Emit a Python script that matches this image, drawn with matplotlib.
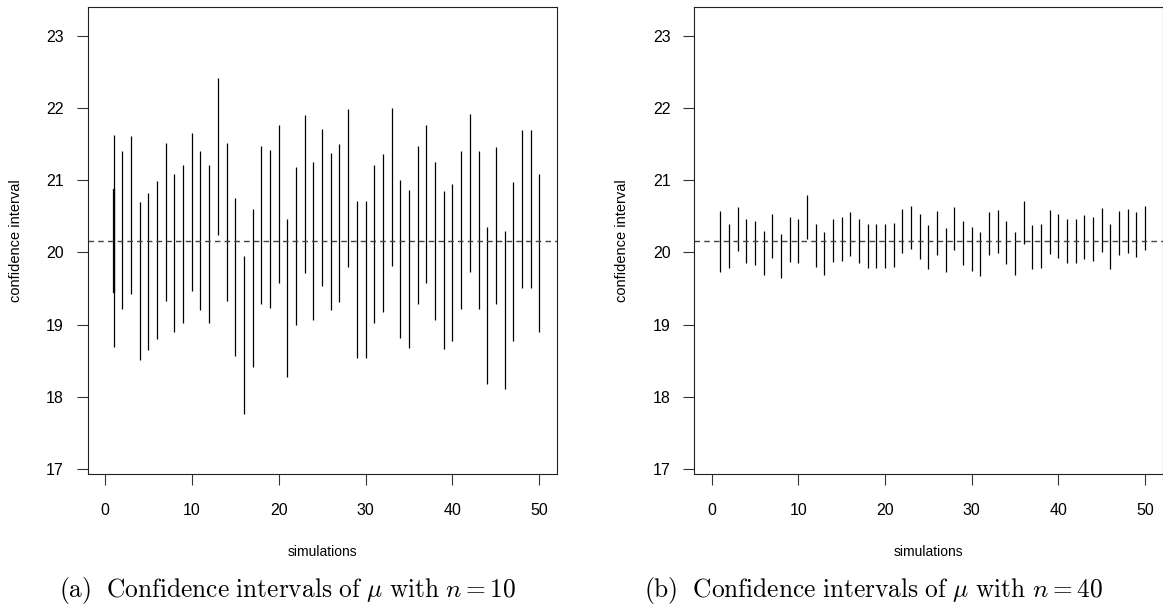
import matplotlib
matplotlib.use('Agg')
import matplotlib.pyplot as plt
import numpy as np

plt.rcParams['font.family'] = ['Liberation Sans', 'DejaVu Sans']
plt.rcParams['mathtext.fontset'] = 'cm'

# simulation index
sims = np.arange(1, 51)
mu = 20.16

# n = 10 intervals
lower_10 = [18.69, 19.22, 19.42, 18.51, 18.65, 18.80, 19.33, 18.90, 19.02, 19.47,
            19.21, 19.02, 20.24, 19.33, 18.56, 17.76, 18.41, 19.29, 19.23, 19.58,
            18.28, 18.99, 19.71, 19.07, 19.53, 19.20, 19.31, 19.80, 18.54, 18.54,
            19.03, 19.17, 19.81, 18.81, 18.68, 19.28, 19.58, 19.07, 18.66, 18.77,
            19.22, 19.73, 19.22, 18.18, 19.28, 18.11, 18.78, 19.51, 19.51, 18.90]
upper_10 = [21.63, 21.41, 21.61, 20.70, 20.83, 20.99, 21.51, 21.09, 21.21, 21.66,
            21.40, 21.21, 22.42, 21.51, 20.75, 19.95, 20.60, 21.48, 21.42, 21.76,
            20.46, 21.18, 21.90, 21.25, 21.71, 21.38, 21.50, 21.99, 20.72, 20.72,
            21.21, 21.36, 22.00, 21.00, 20.86, 21.47, 21.76, 21.25, 20.85, 20.95,
            21.40, 21.92, 21.41, 20.36, 21.46, 20.30, 20.97, 21.69, 21.69, 21.09]
# overlapping darker segment drawn at the first simulation
extra_x = [1]
extra_lower = [19.44]
extra_upper = [20.875]

# n = 40 intervals
lower_40 = [19.73, 19.78, 20.02, 19.85, 19.83, 19.69, 19.92, 19.65, 19.87, 19.86,
            20.19, 19.80, 19.69, 19.87, 19.88, 19.95, 19.86, 19.78, 19.78, 19.79,
            19.80, 19.99, 20.05, 19.91, 19.77, 19.97, 19.73, 20.03, 19.82, 19.74,
            19.68, 19.96, 19.99, 19.84, 19.69, 20.12, 19.77, 19.79, 19.98, 19.93,
            19.85, 19.86, 19.91, 19.88, 20.01, 19.77, 19.96, 19.99, 19.94, 20.03]
upper_40 = [20.57, 20.39, 20.63, 20.46, 20.44, 20.30, 20.53, 20.26, 20.49, 20.47,
            20.80, 20.40, 20.29, 20.47, 20.49, 20.56, 20.47, 20.39, 20.39, 20.40,
            20.41, 20.60, 20.65, 20.53, 20.38, 20.58, 20.34, 20.63, 20.43, 20.35,
            20.28, 20.56, 20.59, 20.44, 20.29, 20.72, 20.38, 20.40, 20.59, 20.54,
            20.46, 20.47, 20.52, 20.49, 20.62, 20.39, 20.57, 20.60, 20.56, 20.64]

yticks = [17, 18, 19, 20, 21, 22, 23]
xticks = [0, 10, 20, 30, 40, 50]
captions = [r'$\mathrm{(a)\ \ Confidence\ intervals\ of\ }\mu\mathrm{\ with\ }n=10$',
            r'$\mathrm{(b)\ \ Confidence\ intervals\ of\ }\mu\mathrm{\ with\ }n=40$']

W, H = 1163, 608
fig = plt.figure(figsize=(W / 100, H / 100), dpi=100)

# axes boxes in pixels: left, right, top, bottom
boxes = [(87.5, 556.7, 7, 473.8), (694.4, 1162.5, 7, 473.8)]
panels = [(lower_10, upper_10), (lower_40, upper_40)]
cap_x = [288, 873]
ylab_x = [-0.1375, -0.14]

for i, ((l, r, t, b), (lo, hi)) in enumerate(zip(boxes, panels)):
    ax = fig.add_axes([l / W, 1 - b / H, (r - l) / W, (b - t) / H])
    ax.vlines(sims, lo, hi, color='black', linewidth=0.9)
    if i == 0:
        ax.vlines(extra_x, extra_lower, extra_upper, color='black', linewidth=1.6)
    ax.axhline(mu, color='#444444', linestyle=(0, (4, 3)), linewidth=1.0)

    ax.set_xlim(-2, 52)
    ax.set_ylim(16.935, 23.40)
    ax.set_xticks(xticks)
    ax.set_yticks(yticks)
    ax.tick_params(direction='out', length=8, width=0.8, labelsize=11.5, color='#333333')
    ax.tick_params(axis='x', pad=13)
    ax.tick_params(axis='y', pad=9)
    for s in ax.spines.values():
        s.set_linewidth(0.8)
        s.set_color('#222222')

    ax.set_xlabel('simulations', fontsize=10)
    ax.set_ylabel('confidence interval', fontsize=10.5)
    ax.xaxis.set_label_coords(0.5, -0.153)
    ax.yaxis.set_label_coords(ylab_x[i], 0.5)

    fig.text(cap_x[i] / W, 1 - 590 / H, captions[i], ha='center', va='center', fontsize=18.3)

fig.savefig('out.png', dpi=100)
